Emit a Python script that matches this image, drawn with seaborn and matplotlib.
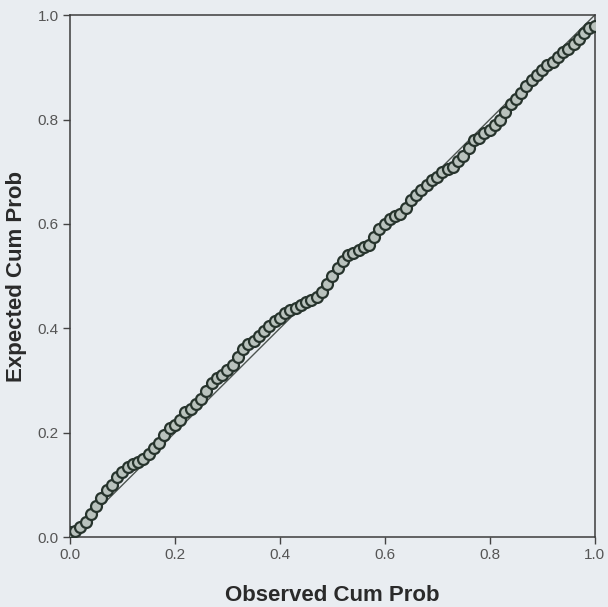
import numpy as np
import pandas as pd
import matplotlib
matplotlib.use("Agg")
import matplotlib.pyplot as plt
import seaborn as sns

# observed vs expected cumulative probabilities
observed = [0.00, 0.01, 0.02, 0.03, 0.04, 0.05, 0.06, 0.07, 0.08, 0.09,
            0.10, 0.11, 0.12, 0.13, 0.14, 0.15, 0.16, 0.17, 0.18, 0.19,
            0.20, 0.21, 0.22, 0.23, 0.24, 0.25, 0.26, 0.27, 0.28, 0.29,
            0.30, 0.31, 0.32, 0.33, 0.34, 0.35, 0.36, 0.37, 0.38, 0.39,
            0.40, 0.41, 0.42, 0.43, 0.44, 0.45, 0.46, 0.47, 0.48, 0.49,
            0.50, 0.51, 0.52, 0.53, 0.54, 0.55, 0.56, 0.57, 0.58, 0.59,
            0.60, 0.61, 0.62, 0.63, 0.64, 0.65, 0.66, 0.67, 0.68, 0.69,
            0.70, 0.71, 0.72, 0.73, 0.74, 0.75, 0.76, 0.77, 0.78, 0.79,
            0.80, 0.81, 0.82, 0.83, 0.84, 0.85, 0.86, 0.87, 0.88, 0.89,
            0.90, 0.91, 0.92, 0.93, 0.94, 0.95, 0.96, 0.97, 0.98, 0.99, 1.00]
expected = [0.010, 0.012, 0.020, 0.030, 0.045, 0.060, 0.075, 0.090, 0.100, 0.115,
            0.125, 0.135, 0.140, 0.145, 0.150, 0.160, 0.170, 0.180, 0.195, 0.210,
            0.215, 0.225, 0.240, 0.245, 0.255, 0.265, 0.280, 0.295, 0.305, 0.310,
            0.320, 0.330, 0.345, 0.360, 0.370, 0.375, 0.385, 0.395, 0.405, 0.415,
            0.420, 0.430, 0.435, 0.440, 0.445, 0.450, 0.455, 0.460, 0.470, 0.485,
            0.500, 0.515, 0.530, 0.540, 0.545, 0.550, 0.555, 0.560, 0.575, 0.590,
            0.600, 0.610, 0.615, 0.620, 0.630, 0.645, 0.655, 0.665, 0.675, 0.685,
            0.690, 0.700, 0.705, 0.710, 0.720, 0.730, 0.745, 0.760, 0.765, 0.775,
            0.780, 0.790, 0.800, 0.815, 0.830, 0.840, 0.850, 0.865, 0.875, 0.885,
            0.895, 0.905, 0.910, 0.920, 0.930, 0.935, 0.945, 0.955, 0.965, 0.975, 0.980]
ref_line = [0.0, 1.0]
ticks = [0.0, 0.2, 0.4, 0.6, 0.8, 1.0]

df = pd.DataFrame({"Observed Cum Prob": observed, "Expected Cum Prob": expected})

sns.set_theme(style="ticks")
plt.rcParams["font.family"] = ["Liberation Sans", "DejaVu Sans"]

paper = "#e9edf1"
fig = plt.figure(figsize=(6.08, 6.07), dpi=100, facecolor=paper)
ax = fig.add_axes([0.115, 0.115, 0.863, 0.86])
ax.set_facecolor(paper)

sns.lineplot(x=ref_line, y=ref_line, ax=ax, color="#4e5551", linewidth=1.0)
sns.scatterplot(data=df, x="Observed Cum Prob", y="Expected Cum Prob", ax=ax,
                marker="o", s=62, facecolor="#b9c2bd", edgecolor="#27342d",
                linewidth=1.6, zorder=3)

ax.set_xlim(0, 1)
ax.set_ylim(0, 1)
ax.set_xticks(ticks)
ax.set_yticks(ticks)
ax.set_xticklabels([f"{t:.1f}" for t in ticks])
ax.set_yticklabels([f"{t:.1f}" for t in ticks])
ax.tick_params(direction="out", length=5, width=1, colors="#444444",
               labelsize=11, labelcolor="#555555", pad=3)
for side in ["top", "right", "bottom", "left"]:
    ax.spines[side].set_visible(True)
    ax.spines[side].set_color("#3c3c3c")
    ax.spines[side].set_linewidth(1.1)

ax.set_xlabel("Observed Cum Prob", fontsize=16, fontweight="bold",
              color="#2a2a2a", labelpad=16)
ax.set_ylabel("Expected Cum Prob", fontsize=16, fontweight="bold",
              color="#2a2a2a", labelpad=8)

fig.savefig("out.png", dpi=100, facecolor=paper)
